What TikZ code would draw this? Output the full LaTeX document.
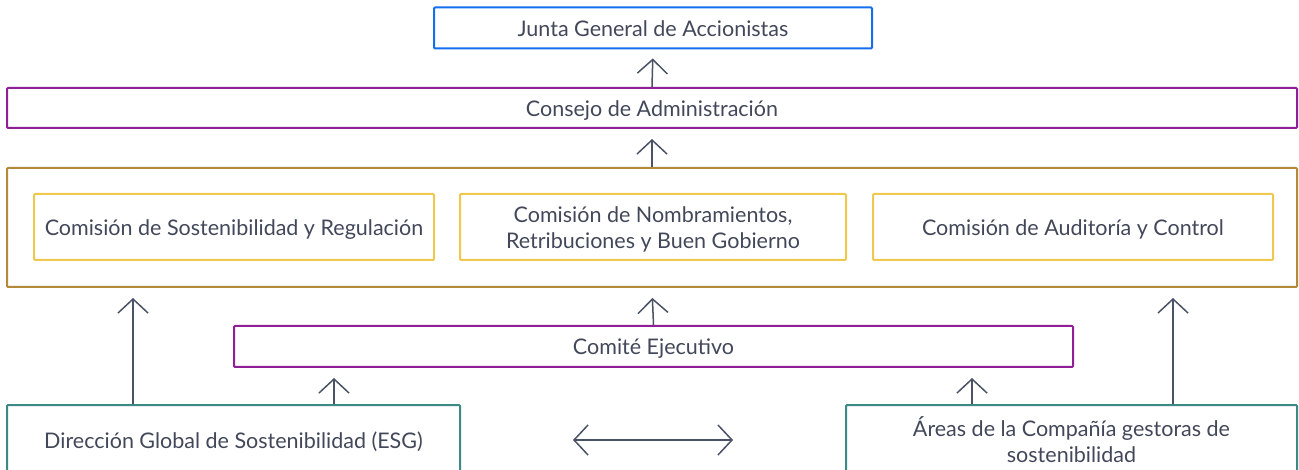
\documentclass[tikz,border=0pt]{standalone}
\usepackage{fontspec}
\setmainfont{Lato}
\usetikzlibrary{arrows.meta}
\definecolor{cblue}{RGB}{20,110,240}
\definecolor{cpurple}{RGB}{142,31,150}
\definecolor{cgold}{RGB}{178,138,58}
\definecolor{cyellow}{RGB}{240,200,80}
\definecolor{cteal}{RGB}{60,138,132}
\definecolor{ctext}{RGB}{66,72,90}
\definecolor{carrow}{RGB}{74,82,102}
\tikzset{
  box/.style={draw, line width=2pt, rounded corners=1pt, inner sep=0pt, text=ctext,
    font=\fontsize{21.5}{26}\selectfont, text height=19pt, text depth=2pt},
  arr/.style={draw=carrow, line width=1.5pt, -{Straight Barb[length=14pt,width=30pt,line width=1.5pt]}},
  darr/.style={draw=carrow, line width=1.5pt, {Straight Barb[length=14pt,width=30pt,line width=1.5pt]}-{Straight Barb[length=14pt,width=30pt,line width=1.5pt]}}
}
\begin{document}
\begin{tikzpicture}[x=1pt,y=-1pt]
\useasboundingbox (0,0) rectangle (1299,470);
\clip (0,0) rectangle (1299,470);
\node[box, draw=cblue, minimum width=438, minimum height=41] (junta) at (653,28) {Junta General de Accionistas};
\node[box, draw=cpurple, minimum width=1290, minimum height=40] (consejo) at (652,108) {Consejo de Administración};
\node[box, draw=cgold, minimum width=1290, minimum height=119] (gold) at (652,227.5) {};
\node[box, draw=cyellow, minimum width=400, minimum height=66] (c1) at (234,227) {Comisión de Sostenibilidad y Regulación};
\node[box, draw=cyellow, minimum width=386, minimum height=66] (c2) at (653,227) {\begin{tabular}{@{}c@{}}Comisión de Nombramientos,\\Retribuciones y Buen Gobierno\end{tabular}};
\node[box, draw=cyellow, minimum width=400, minimum height=66] (c3) at (1073,227) {Comisión de Auditoría y Control};
\node[box, draw=cpurple, minimum width=839, minimum height=41] (comite) at (653.5,346.5) {Comité Ejecutivo};
\node[box, draw=cteal, minimum width=453, minimum height=70] (dir) at (233.5,440) {Dirección Global de Sostenibilidad (ESG)};
\node[box, draw=cteal, minimum width=451, minimum height=70] (areas) at (1071.5,440) {\begin{tabular}{@{}c@{}}Áreas de la Compañía gestoras de\\sostenibilidad\end{tabular}};
\draw[arr, shorten >=9pt] (consejo.north) -- (junta.south);
\draw[arr, shorten >=10pt] (gold.north) -- (consejo.south);
\draw[arr, shorten >=10pt] (comite.north) -- (gold.south);
\path (dir.north west) ++(127,0) coordinate (s1);
\path (dir.north west) ++(328,0) coordinate (s2);
\path (areas.north west) ++(127,0) coordinate (s3);
\path (areas.north west) ++(328,0) coordinate (s4);
\draw[arr, shorten >=10pt] (s1) -- (s1 |- gold.south);
\draw[arr, shorten >=10pt] (s2) -- (s2 |- comite.south);
\draw[arr, shorten >=10pt] (s3) -- (s3 |- comite.south);
\draw[arr, shorten >=10pt] (s4) -- (s4 |- gold.south);
\draw[darr, shorten <=112pt, shorten >=112pt] (dir.east) -- (areas.west);
\end{tikzpicture}
\end{document}
